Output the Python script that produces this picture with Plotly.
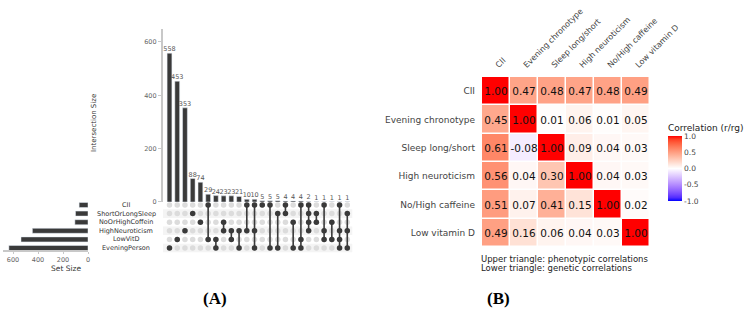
import plotly.graph_objects as go

W, H = 754, 322
def fx(p): return p / W
def fy(p): return 1 - p / H

# ---------------- data ----------------
sets = ["CII", "ShortOrLongSleep", "NoOrHighCoffein", "HighNeuroticism", "LowVitD", "EveningPerson"]
set_sizes = [71, 100, 105, 445, 536, 633]
intersection_sizes = [558, 453, 353, 88, 74, 29, 24, 23, 23, 21, 10, 10, 5, 5, 5, 4, 4, 4, 2, 1, 1, 1, 1, 1]
intersection_members = [
    ["EveningPerson"], ["LowVitD"], ["HighNeuroticism"], ["ShortOrLongSleep"], ["NoOrHighCoffein"],
    ["CII", "LowVitD"], ["LowVitD", "EveningPerson"], ["NoOrHighCoffein", "HighNeuroticism"],
    ["HighNeuroticism", "LowVitD"], ["HighNeuroticism", "EveningPerson"],
    ["CII", "HighNeuroticism"], ["CII", "HighNeuroticism", "EveningPerson"], ["CII"],
    ["CII", "EveningPerson"], ["ShortOrLongSleep", "EveningPerson"],
    ["CII", "ShortOrLongSleep"], ["NoOrHighCoffein", "EveningPerson"], ["CII", "LowVitD", "EveningPerson"],
    ["CII", "ShortOrLongSleep", "NoOrHighCoffein", "HighNeuroticism"],
    ["ShortOrLongSleep", "NoOrHighCoffein"], ["CII", "HighNeuroticism", "LowVitD"],
    ["NoOrHighCoffein", "LowVitD"], ["CII", "HighNeuroticism", "LowVitD", "EveningPerson"],
    ["ShortOrLongSleep", "HighNeuroticism", "EveningPerson"],
]
intersection_ticks = [0, 200, 400, 600]
setsize_ticks = [0, 200, 400, 600]

traits = ["CII", "Evening chronotype", "Sleep long/short", "High neuroticism", "No/High caffeine", "Low vitamin D"]
corr = [
    [1.00, 0.47, 0.48, 0.47, 0.48, 0.49],
    [0.45, 1.00, 0.01, 0.06, 0.01, 0.05],
    [0.61, -0.08, 1.00, 0.09, 0.04, 0.03],
    [0.56, 0.04, 0.30, 1.00, 0.04, 0.03],
    [0.51, 0.07, 0.41, 0.15, 1.00, 0.02],
    [0.49, 0.16, 0.06, 0.04, 0.03, 1.00],
]
cbar_ticks = [-1.0, -0.5, 0.0, 0.5, 1.0]

# ---------------- Lab colour scale (blue-white-red) ----------------
def _lin(c):
    c = c / 255
    return c / 12.92 if c <= 0.04045 else ((c + 0.055) / 1.055) ** 2.4
def _gam(c):
    c = max(0.0, min(1.0, c))
    v = 12.92 * c if c <= 0.0031308 else 1.055 * c ** (1 / 2.4) - 0.055
    return int(round(v * 255))
def rgb2lab(rgb):
    r, g, b = [_lin(c) for c in rgb]
    X = (0.4124 * r + 0.3576 * g + 0.1805 * b) / 0.95047
    Y = (0.2126 * r + 0.7152 * g + 0.0722 * b)
    Z = (0.0193 * r + 0.1192 * g + 0.9505 * b) / 1.08883
    f = lambda t: t ** (1 / 3) if t > 0.008856 else 7.787 * t + 16 / 116
    fx_, fy_, fz_ = f(X), f(Y), f(Z)
    return (116 * fy_ - 16, 500 * (fx_ - fy_), 200 * (fy_ - fz_))
def lab2rgb(lab):
    L, a, b = lab
    fy_ = (L + 16) / 116
    fx_ = fy_ + a / 500
    fz_ = fy_ - b / 200
    g = lambda t: t ** 3 if t ** 3 > 0.008856 else (t - 16 / 116) / 7.787
    X, Y, Z = g(fx_) * 0.95047, g(fy_), g(fz_) * 1.08883
    r = 3.2406 * X - 1.5372 * Y - 0.4986 * Z
    gg = -0.9689 * X + 1.8758 * Y + 0.0415 * Z
    bb = 0.0557 * X - 0.2040 * Y + 1.0570 * Z
    return "rgb(%d,%d,%d)" % (_gam(r), _gam(gg), _gam(bb))
white, red, blue = rgb2lab((255, 255, 255)), rgb2lab((255, 0, 0)), rgb2lab((0, 0, 255))
cscale = []
N = 20
for i in range(N + 1):
    t = i / N
    v = -1 + 2 * t
    end = blue if v < 0 else red
    f = abs(v)
    lab = tuple(white[k] + (end[k] - white[k]) * f for k in range(3))
    cscale.append([t, lab2rgb(lab)])

# ---------------- geometry ----------------
col0, colstep = 169.5, 7.73
xr = [-0.85, 23.65]
mat_left = col0 + xr[0] * colstep
mat_right = col0 + xr[1] * colstep
bar_zero_px, bar_scale = 202, 0.2667
ymax = 650
bar_top_px = bar_zero_px - ymax * bar_scale
row_top, row_step = 205, 8.6
yr = [-0.6, 5.6]
m_top = row_top - 0.6 * row_step
m_bot = row_top + 5.6 * row_step
ss_zero, ss_scale, ss_max = 88, 0.125, 680

dark = "#3a3a3a"
FONT = "DejaVu Sans"
fig = go.Figure()

# intersection bars
xs = list(range(len(intersection_sizes)))
fig.add_trace(go.Bar(x=xs, y=intersection_sizes, marker_color=dark, width=0.62,
                     text=[str(v) for v in intersection_sizes], textposition="outside",
                     constraintext="none", textangle=0,
                     textfont=dict(size=6.5, color="#555", family=FONT),
                     cliponaxis=False, xaxis="x", yaxis="y", showlegend=False))

# matrix
yidx = {s: 5 - i for i, s in enumerate(sets)}
gx, gy = [], []
for c in xs:
    for s in sets:
        gx.append(c); gy.append(yidx[s])
fig.add_trace(go.Scatter(x=gx, y=gy, mode="markers", marker=dict(size=5.5, color="#dcdcdc"),
                         xaxis="x2", yaxis="y2", showlegend=False))
for c, mem in enumerate(intersection_members):
    ys = [yidx[s] for s in mem]
    if len(ys) > 1:
        fig.add_trace(go.Scatter(x=[c, c], y=[min(ys), max(ys)], mode="lines",
                                 line=dict(color=dark, width=1.6), xaxis="x2", yaxis="y2", showlegend=False))
ax, ay = [], []
for c, mem in enumerate(intersection_members):
    for s in mem:
        ax.append(c); ay.append(yidx[s])
fig.add_trace(go.Scatter(x=ax, y=ay, mode="markers", marker=dict(size=5.5, color=dark),
                         xaxis="x2", yaxis="y2", showlegend=False))

# set size bars
fig.add_trace(go.Bar(x=set_sizes, y=[yidx[s] for s in sets], orientation="h", marker_color=dark,
                     width=0.58, xaxis="x3", yaxis="y3", showlegend=False))

# heatmap
fig.add_trace(go.Heatmap(z=corr, x=traits, y=traits, zmin=-1, zmax=1, colorscale=cscale,
                         xgap=1.5, ygap=1.5, texttemplate="%{z:.2f}",
                         textfont=dict(size=10.5, color="#111", family=FONT),
                         xaxis="x4", yaxis="y4",
                         colorbar=dict(x=fx(668), xanchor="left", xpad=0, y=fy(201), yanchor="bottom",
                                       ypad=0, len=80 / H, thickness=14, outlinewidth=0,
                                       tickvals=cbar_ticks, ticktext=["%.1f" % v for v in cbar_ticks],
                                       ticks="", tickfont=dict(size=7.5, color="#444", family=FONT),
                                       title=dict(text="Correlation (r/rg)", side="top",
                                                  font=dict(size=9, color="#222", family=FONT)))))

shapes = []
for s in ["ShortOrLongSleep", "HighNeuroticism", "EveningPerson"]:
    shapes.append(dict(type="rect", xref="paper", yref="y2", x0=fx(mat_left), x1=fx(mat_right),
                       y0=yidx[s] - 0.5, y1=yidx[s] + 0.5, fillcolor="#f4f4f4", line=dict(width=0), layer="below"))

ann = []
for s in sets:
    ann.append(dict(x=fx(126), y=yidx[s], xref="paper", yref="y2", text=s, showarrow=False,
                    xanchor="center", yanchor="middle", font=dict(size=6.5, color="#333", family=FONT)))
ann.append(dict(x=fx(88), y=fy(123), xref="paper", yref="paper", text="Intersection Size", textangle=-90,
                showarrow=False, font=dict(size=7, color="#333", family=FONT)))
ann.append(dict(x=fx(49), y=fy(275), xref="paper", yref="paper", text="Set Size",
                showarrow=False, font=dict(size=7.5, color="#333", family=FONT)))
ann.append(dict(x=fx(479), y=fy(259), xref="paper", yref="paper", xanchor="left", yanchor="middle",
                text="Upper triangle: phenotypic correlations",
                showarrow=False, font=dict(size=8.5, color="#222", family=FONT)))
ann.append(dict(x=fx(479), y=fy(268), xref="paper", yref="paper", xanchor="left", yanchor="middle",
                text="Lower triangle: genetic correlations",
                showarrow=False, font=dict(size=8.5, color="#222", family=FONT)))
ann.append(dict(x=fx(201), y=fy(310), xref="paper", yref="paper", text="<b>(A)</b>", showarrow=False,
                font=dict(size=17, color="#000", family="Liberation Serif")))
ann.append(dict(x=fx(512), y=fy(310), xref="paper", yref="paper", text="<b>(B)</b>", showarrow=False,
                font=dict(size=17, color="#000", family="Liberation Serif")))

axfont = dict(size=6.5, color="#666", family=FONT)
fig.update_layout(
    width=W, height=H, margin=dict(l=0, r=0, t=0, b=0, autoexpand=False),
    paper_bgcolor="white", plot_bgcolor="rgba(0,0,0,0)",
    shapes=shapes, annotations=ann, bargap=0.3,
    xaxis=dict(domain=[fx(mat_left), fx(mat_right)], range=xr, visible=False, anchor="y", automargin=False),
    yaxis=dict(domain=[fy(bar_zero_px), fy(bar_top_px)], range=[0, ymax], anchor="x", automargin=False,
               tickvals=intersection_ticks, showgrid=False, zeroline=False,
               showline=True, linecolor="#c8c8c8", linewidth=2, ticks="outside", ticklen=3,
               tickcolor="#c8c8c8", tickfont=axfont),
    xaxis2=dict(domain=[fx(mat_left), fx(mat_right)], range=xr, visible=False, anchor="y2", automargin=False),
    yaxis2=dict(domain=[fy(m_bot), fy(m_top)], range=yr, visible=False, anchor="x2", automargin=False),
    xaxis3=dict(domain=[fx(ss_zero - ss_max * ss_scale), fx(ss_zero)], range=[ss_max, 0],
                anchor="free", position=fy(251), automargin=False,
                tickvals=setsize_ticks, showgrid=False, zeroline=False, showline=True,
                linecolor="#c8c8c8", linewidth=1.5, ticks="outside", ticklen=2, tickcolor="#c8c8c8",
                tickfont=axfont, ticklabelstandoff=0),
    yaxis3=dict(domain=[fy(m_bot), fy(m_top)], range=yr, visible=False, anchor="x3", automargin=False),
    xaxis4=dict(domain=[fx(482), fx(650)], side="top", tickangle=-45, anchor="y4", automargin=False,
                tickfont=dict(size=8, color="#444", family=FONT), showgrid=False,
                zeroline=False, ticks="", ticklabelstandoff=5),
    yaxis4=dict(domain=[fy(247), fy(77)], autorange="reversed", anchor="x4", automargin=False,
                tickfont=dict(size=9, color="#444", family=FONT), showgrid=False,
                zeroline=False, ticks="", ticklabelstandoff=6),
)

fig.write_html("out.html", config={"displayModeBar": False},
               post_script="document.body.style.margin='0px';")
